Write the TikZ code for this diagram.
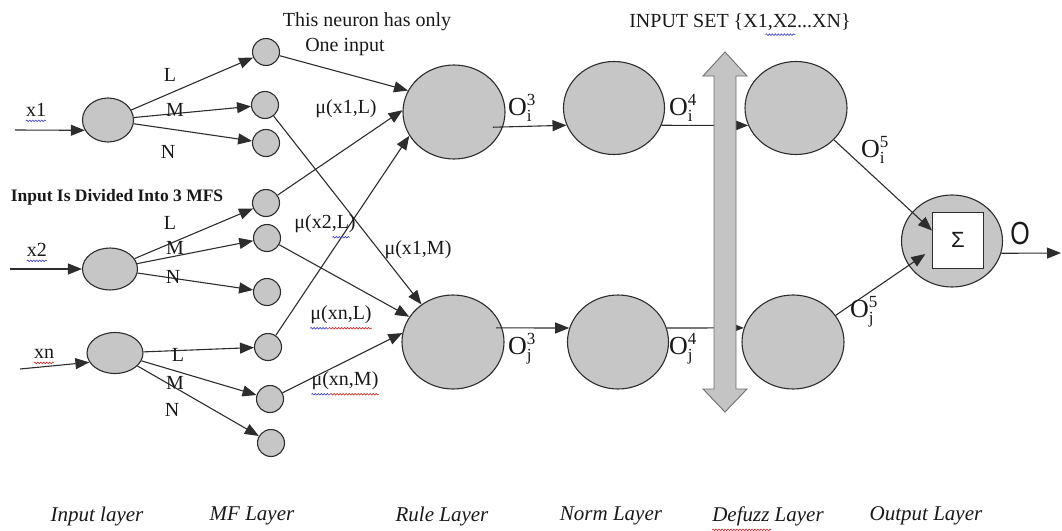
\documentclass[tikz,border=0pt]{standalone}
\usepackage{fontspec}
\setmainfont{Liberation Serif}
\newfontfamily\arialf{Liberation Sans}
\usetikzlibrary{arrows.meta,shapes.geometric,decorations.pathmorphing,calc}
\definecolor{nfill}{RGB}{198,198,198}
\definecolor{nline}{RGB}{45,45,45}
\definecolor{txt}{RGB}{25,25,25}
\definecolor{afill}{RGB}{196,196,196}
\definecolor{aline}{RGB}{110,110,110}
\definecolor{sqblue}{RGB}{60,60,210}
\definecolor{sqred}{RGB}{210,40,40}
\newcommand{\Olab}[2]{{\fontsize{26}{28}\selectfont O}\rlap{\raisebox{-6pt}{\fontsize{17}{17}\selectfont #1}}\raisebox{10pt}{\fontsize{17}{17}\selectfont #2}}
\begin{document}
\begin{tikzpicture}[x=1pt,y=-1pt,
  every node/.style={font=\fontsize{20}{24}\selectfont, text=txt},
  neuron/.style={ellipse, draw=nline, fill=nfill, line width=1.1pt, inner sep=0},
  mfc/.style={circle, draw=nline, fill=nfill, line width=1.1pt, minimum size=27pt, inner sep=0},
  big/.style={neuron, minimum width=102pt, minimum height=94pt},
  conn/.style={draw=nline, line width=1.1pt, -{Triangle[length=14pt,width=11pt]}},
  lbl/.style={inner sep=0},
  layer/.style={inner sep=0, font=\fontsize{21}{24}\selectfont\itshape},
  squig/.style={decorate, decoration={snake, amplitude=0.8pt, segment length=3pt}, line width=0.6pt}]
\useasboundingbox (0,0) rectangle (1062,530);

% input layer
\node[neuron, minimum width=51pt, minimum height=44pt] (in1) at (108,120) {};
\node[neuron, minimum width=55pt, minimum height=42pt] (in2) at (110,269) {};
\node[neuron, minimum width=56pt, minimum height=41pt] (in3) at (115,353) {};

% MF layer
\node[mfc] (mf1) at (266,52) {};
\node[mfc] (mf2) at (265,105) {};
\node[mfc] (mf3) at (266,143) {};
\node[mfc] (mf4) at (266,203) {};
\node[mfc] (mf5) at (267,238) {};
\node[mfc] (mf6) at (267,292) {};
\node[mfc] (mf7) at (268,347) {};
\node[mfc] (mf8) at (270,399) {};
\node[mfc] (mf9) at (271,443) {};

% rule, norm, defuzz, output
\node[big] (rule1) at (454,112) {};
\node[big] (rule2) at (453,342) {};
\node[big, minimum width=101pt, minimum height=93pt] (norm1) at (614,108) {};
\node[big, minimum width=101pt] (norm2) at (618,342) {};
\node[big, minimum height=93pt] (def1) at (796,108) {};
\node[big] (def2) at (793,342) {};
\node[neuron, minimum width=101pt, minimum height=92pt] (out) at (952,241) {};
\node[draw=nline, fill=white, line width=1pt, minimum width=51pt, minimum height=56pt, inner sep=0, font=\arialf\fontsize{22}{24}\selectfont] (sig) at (958,240) {Σ};

% inputs
\coordinate (x1s) at (15,130);
\coordinate (x2s) at (10,269);
\coordinate (xns) at (20,369);
\draw[conn] (x1s) -- (in1.204);
\draw[conn] (x2s) -- (in2.west);
\draw[conn] (xns) -- (in3.200);
\node[lbl] (lx1) at (36,110) {x1};
\node[lbl] (lx2) at (37,250) {x2};
\node[lbl] (lxn) at (44,354) {xn};
\draw[squig, sqblue] ([yshift=-4pt]lx1.south west) -- ([yshift=-4pt]lx1.south east);
\draw[squig, sqblue] ([yshift=-4pt]lx2.south west) -- ([yshift=-4pt]lx2.south east);
\draw[squig, sqred] ([yshift=-4pt]lxn.south west) -- ([yshift=-4pt]lxn.south east);

% input -> MF
\draw[conn] (in1) -- (mf1);
\draw[conn] (in1) -- (mf2);
\draw[conn] (in1) -- (mf3);
\draw[conn] (in2) -- (mf4);
\draw[conn] (in2) -- (mf5);
\draw[conn] (in2) -- (mf6);
\draw[conn] (in3) -- (mf7);
\draw[conn] (in3) -- (mf8);
\draw[conn] (in3) -- (mf9);
\node[lbl] (l1) at (170,75) {L};
\node[lbl] (m1) at (175,110) {M};
\node[lbl] (n1) at (168,152) {N};
\node[lbl] (l2) at (170,223) {L};
\node[lbl] (m2) at (175,248) {M};
\node[lbl] (n2) at (173,277) {N};
\node[lbl] (l3) at (178,355) {L};
\node[lbl] (m3) at (175,383) {M};
\node[lbl] (n3) at (172,410) {N};
\node[lbl, font=\fontsize{17.5}{20}\selectfont\bfseries] (divided) at (117,197) {Input Is Divided Into 3 MFS};

% MF -> rule
\draw[conn] (mf1) -- (rule1.155);
\draw[conn] (mf4) -- (rule1.178);
\draw[conn] (mf7) -- (rule1.208);
\draw[conn] (mf2) -- (rule2.130);
\draw[conn] (mf5) -- (rule2.150);
\draw[conn] (mf8) -- (rule2.170);
\node[lbl] (t1) at (367,22) {This neuron has only};
\node[lbl] (t2) at (345,47) {One input};
\node[lbl] (mux1L) at (346,109) {μ(x1,L)};
\node[lbl] (mux2L) at (325,224) {μ(x2,L)};
\node[lbl] (mux1M) at (418,250) {μ(x1,M)};
\node[lbl] (muxnL) at (341,315) {μ(xn,L)};
\node[lbl] (muxnM) at (345,381) {μ(xn,M)};
\draw[squig, sqblue] ([yshift=-4pt]$(mux2L.south west)!0.62!(mux2L.south east)$) -- ([yshift=-4pt]$(mux2L.south west)!0.9!(mux2L.south east)$);
\draw[squig, sqblue] ([yshift=-4pt]muxnL.south west) -- ([yshift=-4pt]$(muxnL.south west)!0.3!(muxnL.south east)$);
\draw[squig, sqred] ([yshift=-4pt]$(muxnL.south west)!0.3!(muxnL.south east)$) -- ([yshift=-4pt]muxnL.south east);
\draw[squig, sqblue] ([yshift=-4pt]muxnM.south west) -- ([yshift=-4pt]$(muxnM.south west)!0.28!(muxnM.south east)$);
\draw[squig, sqred] ([yshift=-4pt]$(muxnM.south west)!0.28!(muxnM.south east)$) -- ([yshift=-4pt]muxnM.south east);

% rule -> norm -> defuzz
\draw[conn, shorten <=-10pt] (rule1.-17) -- (norm1.200);
\draw[conn, shorten <=-6pt] (rule2.16) -- (norm2.164);
\draw[conn] (norm1.-20) -- (def1.200);
\draw[conn] (norm2.16) -- (def2.164);
\node[lbl, anchor=west] (oi3) at (508,108) {\Olab{i}{3}};
\node[lbl, anchor=west] (oj3) at (508,349) {\Olab{j}{3}};
\node[lbl, anchor=west] (oi4) at (669,108) {\Olab{i}{4}};
\node[lbl, anchor=west] (oj4) at (669,349) {\Olab{j}{4}};

% big double arrow (input set)
\draw[fill=afill, draw=aline, line width=0.9pt] (725,52) -- (747,76) -- (736,76) -- (736,389) -- (747,389) -- (725,412) -- (703,389) -- (714,389) -- (714,76) -- (703,76) -- cycle;
\node[lbl] (iset) at (740,22) {INPUT SET \{X1,X2...XN\}};
\draw[squig, sqblue] ([yshift=-4pt]$(iset.south west)!0.615!(iset.south east)$) -- ([yshift=-4pt]$(iset.south west)!0.75!(iset.south east)$);

% defuzz -> output
\draw[conn] (def1.-40) -- (sig.160);
\draw[conn, shorten >=8pt] (def2.32) -- (sig.200);
\node[lbl, anchor=west] (oi5) at (861,150) {\Olab{i}{5}};
\node[lbl, anchor=west] (oj5) at (850,312) {\Olab{j}{5}};
\coordinate (oend) at (1061,253);
\draw[conn] (out.-14) -- (oend);
\node[lbl, font=\arialf\fontsize{32}{34}\selectfont] (olab) at (1020,233) {\scalebox{0.78}[1]{O}};

% layer labels
\node[layer] (lay1) at (97,516) {Input layer};
\node[layer] (lay2) at (252,516) {MF Layer};
\node[layer] (lay3) at (442,516) {Rule Layer};
\node[layer] (lay4) at (611,516) {Norm Layer};
\node[layer] (lay5) at (768,516) {Defuzz Layer};
\node[layer] (lay6) at (926,516) {Output Layer};
\draw[squig, sqred] ([yshift=-4pt]lay5.south west) -- ([yshift=-4pt]$(lay5.south west)!0.53!(lay5.south east)$);
\end{tikzpicture}
\end{document}
